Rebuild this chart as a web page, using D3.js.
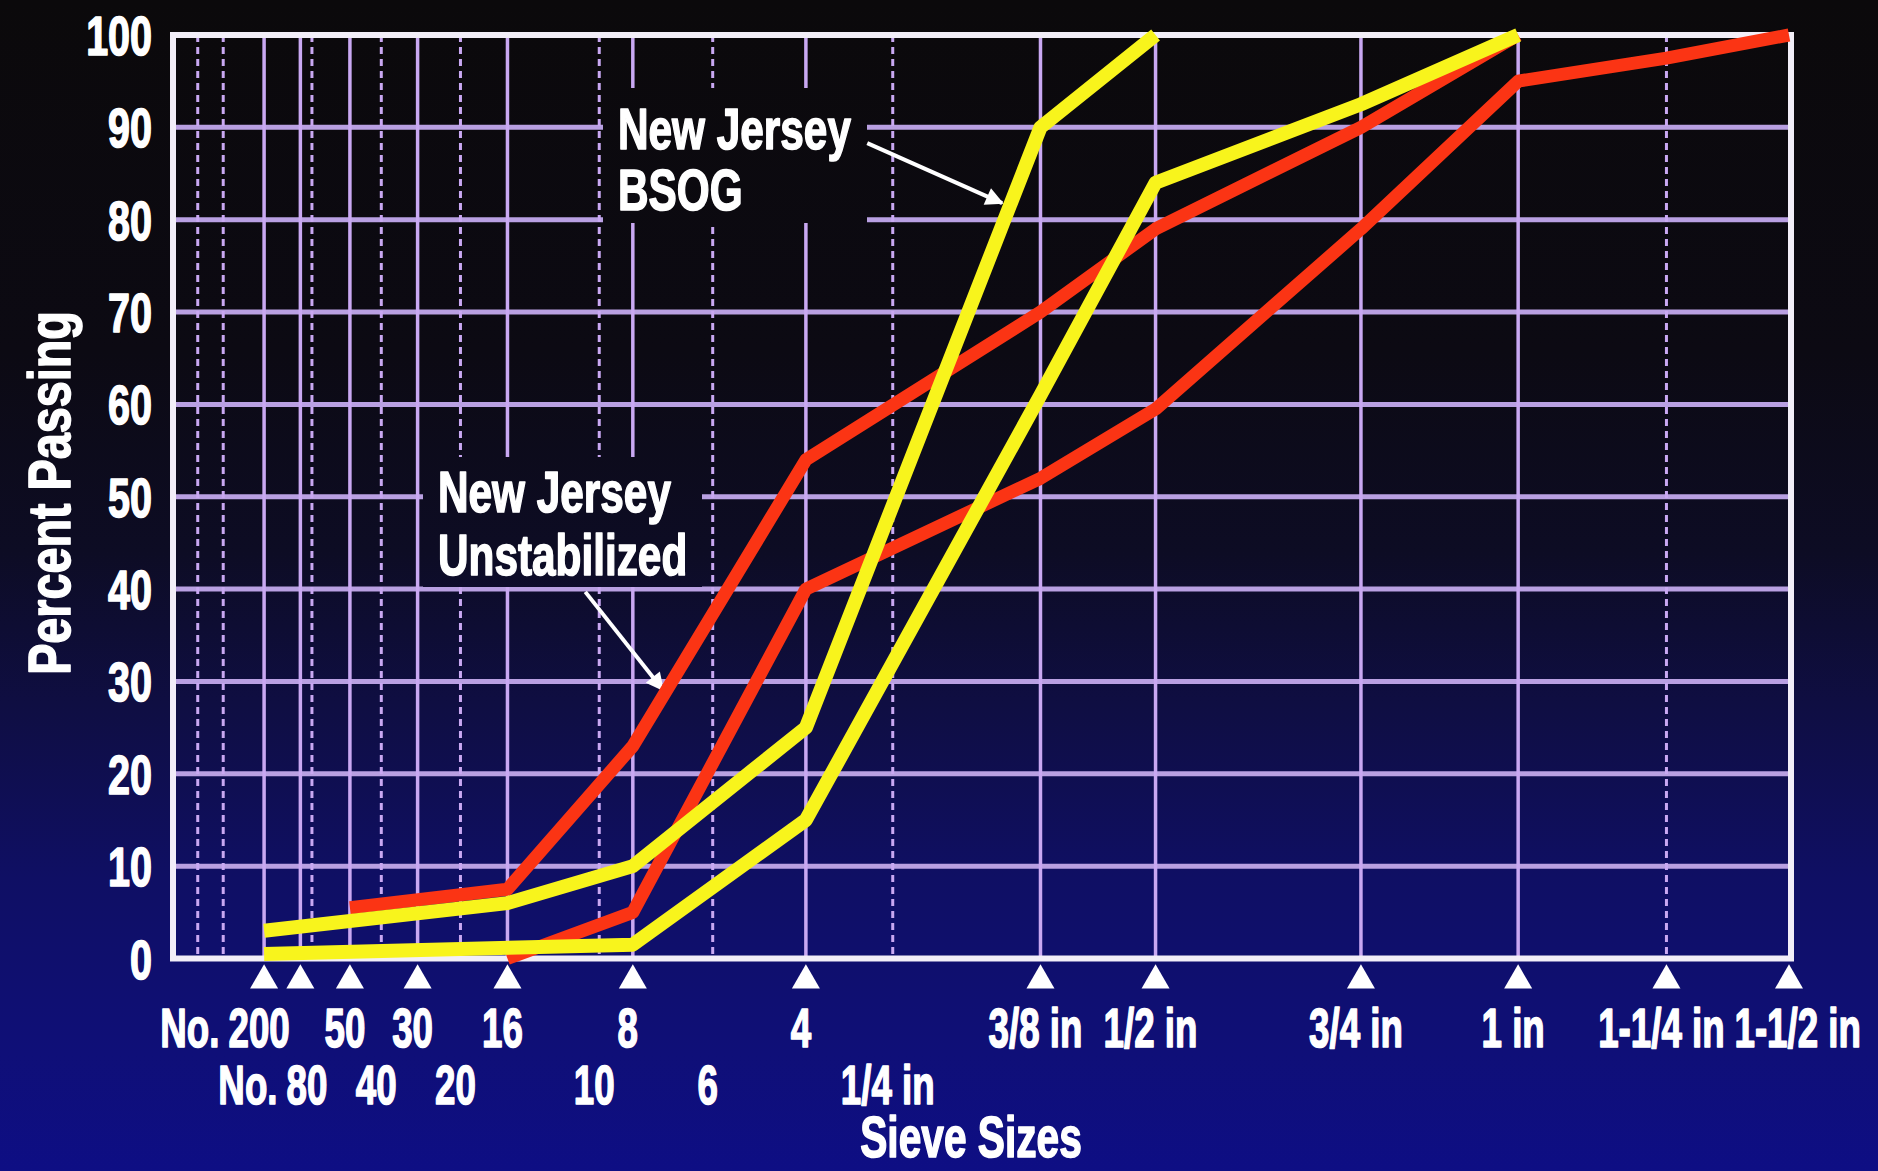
<!DOCTYPE html>
<html>
<head>
<meta charset="utf-8">
<script src="https://cdn.jsdelivr.net/npm/d3@7"></script>
<style>
  body { margin: 0; background: #0b090b; }
  svg { display: block; }
  text {
    font-family: "Liberation Sans Narrow", "Arial Narrow", "Liberation Sans", Arial, sans-serif;
    font-weight: bold;
    fill: #ffffff;
    stroke: #ffffff;
    stroke-width: 1.6px;
    stroke-linejoin: round;
  }
</style>
</head>
<body>
<div id="chart"></div>
<script>
// sieve openings in mm, plotted on a 0.45 power scale
var solidSieves = [0.075, 0.15, 0.3, 0.6, 1.18, 2.36, 4.75, 9.5, 12.5, 19, 25];
var dashedSieves = [0.0064, 0.023, 0.18, 0.425, 0.85, 2.0, 3.35, 6.3, 31.5];
var markSieves = [0.075, 0.15, 0.3, 0.6, 1.18, 2.36, 4.75, 9.5, 12.5, 19, 25, 31.5, 37.5];

var topRowSieves = [0.075, 0.3, 0.6, 1.18, 2.36, 4.75, 9.5, 12.5, 19, 25, 31.5, 37.5];
var topRowLabels = ["200", "50", "30", "16", "8", "4", "3/8 in", "1/2 in", "3/4 in", "1 in", "1-1/4 in", "1-1/2 in"];
var bottomRowSieves = [0.18, 0.425, 0.85, 2.0, 3.35, 6.3];
var bottomRowLabels = ["80", "40", "20", "10", "6", "1/4 in"];

var yTicks = [0, 10, 20, 30, 40, 50, 60, 70, 80, 90, 100];

// New Jersey Unstabilized band (red)
var redUpperSieves = [0.3, 1.18, 2.36, 4.75, 9.5, 12.5, 19, 25];
var redUpperPassing = [5.5, 7.5, 23, 54, 70, 79, 90, 100];
var redLowerSieves = [1.18, 2.36, 4.75, 9.5, 12.5, 19, 25, 31.5, 37.5];
var redLowerPassing = [0, 5, 40, 52, 59.5, 79, 95, 97.5, 100];

// New Jersey BSOG band (yellow)
var yellowUpperSieves = [0.075, 1.18, 2.36, 4.75, 9.5, 12.5];
var yellowUpperPassing = [3, 6, 10, 25, 90, 100];
var yellowLowerSieves = [0.075, 2.36, 4.75, 9.5, 12.5, 19, 25];
var yellowLowerPassing = [0.5, 1.5, 15, 61, 84, 92.5, 100];

var svgWidth = 1878;
var svgHeight = 1171;

var frame = { left: 173, right: 1791, top: 35, bottom: 958.5 };

var svg = d3.select("#chart")
    .append("svg")
    .attr("width", svgWidth)
    .attr("height", svgHeight);

// background: black at the top fading into navy
var defs = svg.append("defs");
var grad = defs.append("linearGradient")
    .attr("id", "bg")
    .attr("gradientUnits", "userSpaceOnUse")
    .attr("x1", 0).attr("y1", 0)
    .attr("x2", 0).attr("y2", svgHeight);
[["0%", "#0b090b"], ["30%", "#0c0a13"], ["47%", "#0d0c24"], ["60%", "#0f0e42"],
 ["75%", "#0f0f64"], ["90%", "#0f0f78"], ["100%", "#0e0e84"]].forEach(function(s) {
    grad.append("stop").attr("offset", s[0]).attr("stop-color", s[1]);
});

defs.append("marker")
    .attr("id", "arrow")
    .attr("viewBox", "0 0 10 10")
    .attr("refX", 9).attr("refY", 5)
    .attr("markerUnits", "userSpaceOnUse")
    .attr("markerWidth", 28).attr("markerHeight", 18)
    .attr("orient", "auto")
    .append("path")
    .attr("d", "M0,0 L10,5 L0,10 Z")
    .attr("fill", "#ffffff");

svg.append("rect")
    .attr("width", svgWidth)
    .attr("height", svgHeight)
    .attr("fill", "url(#bg)");

// scales
var x = d3.scalePow().exponent(0.45)
    .domain([0, 37.5])
    .range([165, 1789]);

var y = d3.scaleLinear()
    .domain([0, 100])
    .range([frame.bottom, frame.top]);

// work out how wide the installed font is, so text can be squeezed to match
var probe = svg.append("text").style("font-size", "100px").style("stroke", "none").text("0123456789");
var digitEm = probe.node().getComputedTextLength() / 1000;
probe.remove();
var squeeze = 0.456 / digitEm;

function addText(g, px, py, str, size, anchor, sx, rotate) {
    var t = `translate(${px},${py})` + (rotate ? ` rotate(${rotate})` : "") + ` scale(${sx},1)`;
    return g.append("text")
        .attr("transform", t)
        .attr("text-anchor", anchor)
        .style("font-size", size + "px")
        .text(str);
}

// grid
var grid = svg.append("g");

grid.selectAll(".hgrid")
    .data(yTicks.filter(function(d) { return d > 0 && d < 100; }))
    .enter()
    .append("line")
    .attr("x1", frame.left).attr("x2", frame.right)
    .attr("y1", d => y(d)).attr("y2", d => y(d))
    .attr("stroke", "#b9a0e2")
    .attr("stroke-width", 5);

grid.selectAll(".vsolid")
    .data(solidSieves)
    .enter()
    .append("line")
    .attr("x1", d => x(d)).attr("x2", d => x(d))
    .attr("y1", y(100)).attr("y2", y(0))
    .attr("stroke", "#c9a8f2")
    .attr("stroke-width", 3.5);

grid.selectAll(".vdash")
    .data(dashedSieves)
    .enter()
    .append("line")
    .attr("x1", d => x(d)).attr("x2", d => x(d))
    .attr("y1", y(100)).attr("y2", y(0))
    .attr("stroke", "#c9a8f2")
    .attr("stroke-width", 3)
    .attr("stroke-dasharray", "7,5");

// frame
svg.append("rect")
    .attr("x", frame.left)
    .attr("y", frame.top)
    .attr("width", frame.right - frame.left)
    .attr("height", frame.bottom - frame.top)
    .attr("fill", "none")
    .attr("stroke", "#f2eef8")
    .attr("stroke-width", 6);

// annotation boxes hide the grid behind the labels
var notes = svg.append("g");
notes.append("rect")
    .attr("x", 603).attr("y", 88).attr("width", 264).attr("height", 135)
    .attr("fill", "url(#bg)");
notes.append("rect")
    .attr("x", 423).attr("y", 457).attr("width", 279).attr("height", 130)
    .attr("fill", "url(#bg)");

addText(notes, 618, 149, "New Jersey", 58, "start", 0.89 * squeeze);
addText(notes, 618, 210, "BSOG", 58, "start", 0.89 * squeeze);
addText(notes, 438, 512, "New Jersey", 58, "start", 0.89 * squeeze);
addText(notes, 438, 575, "Unstabilized", 58, "start", 0.89 * squeeze);

notes.append("line")
    .attr("x1", x(5.82)).attr("y1", y(88.3))
    .attr("x2", x(8.6)).attr("y2", y(81.8))
    .attr("stroke", "#ffffff").attr("stroke-width", 4)
    .attr("marker-end", "url(#arrow)");
notes.append("line")
    .attr("x1", x(1.86)).attr("y1", y(39.7))
    .attr("x2", x(2.71)).attr("y2", y(29.1))
    .attr("stroke", "#ffffff").attr("stroke-width", 4)
    .attr("marker-end", "url(#arrow)");

// gradation lines
var line = d3.line()
    .x(d => x(d[0]))
    .y(d => y(d[1]));

var series = [
    { s: redUpperSieves, p: redUpperPassing, color: "#fb3414", w: 13 },
    { s: redLowerSieves, p: redLowerPassing, color: "#fb3414", w: 13 },
    { s: yellowUpperSieves, p: yellowUpperPassing, color: "#f8f41c", w: 14 },
    { s: yellowLowerSieves, p: yellowLowerPassing, color: "#f8f41c", w: 14 }
];

svg.append("g")
    .selectAll("path")
    .data(series)
    .enter()
    .append("path")
    .attr("d", d => line(d3.zip(d.s, d.p)))
    .attr("fill", "none")
    .attr("stroke", d => d.color)
    .attr("stroke-width", d => d.w)
    .attr("stroke-linejoin", "round");

// sieve markers under the axis
svg.append("g")
    .selectAll("path")
    .data(markSieves)
    .enter()
    .append("path")
    .attr("d", d3.symbol(d3.symbolTriangle, 340))
    .attr("transform", d => `translate(${x(d)},${y(0) + 22})`)
    .attr("fill", "#ffffff");

// y tick labels
var yAxis = svg.append("g");
yTicks.forEach(function(v) {
    addText(yAxis, 152, y(v) + 20, String(v), 56, "end", 0.86 * squeeze);
});
addText(yAxis, 70, 493, "Percent Passing", 60, "middle", 0.95 * squeeze, -90);

// x labels, two staggered rows, set a little left of their sieve lines
var xAxis = svg.append("g");
function labelRow(sieves, labels, baseline) {
    sieves.forEach(function(s, i) {
        var last = i === sieves.length - 1 && sieves[i] === d3.max(markSieves);
        var t = last
            ? addText(xAxis, frame.right + 70, baseline, labels[i], 56, "end", 0.8 * squeeze)
            : addText(xAxis, x(s) - 5, baseline, labels[i], 56, "middle", 0.8 * squeeze);
        if (i === 0) {
            var w = t.node().getComputedTextLength() * 0.8 * squeeze;
            addText(xAxis, x(s) - 5 - w / 2 - 9, baseline, "No.", 56, "end", 0.8 * squeeze);
        }
    });
}
labelRow(topRowSieves, topRowLabels, 1047);
labelRow(bottomRowSieves, bottomRowLabels, 1104);

addText(xAxis, 971, 1157, "Sieve Sizes", 57, "middle", 0.87 * squeeze);
</script>
</body>
</html>
